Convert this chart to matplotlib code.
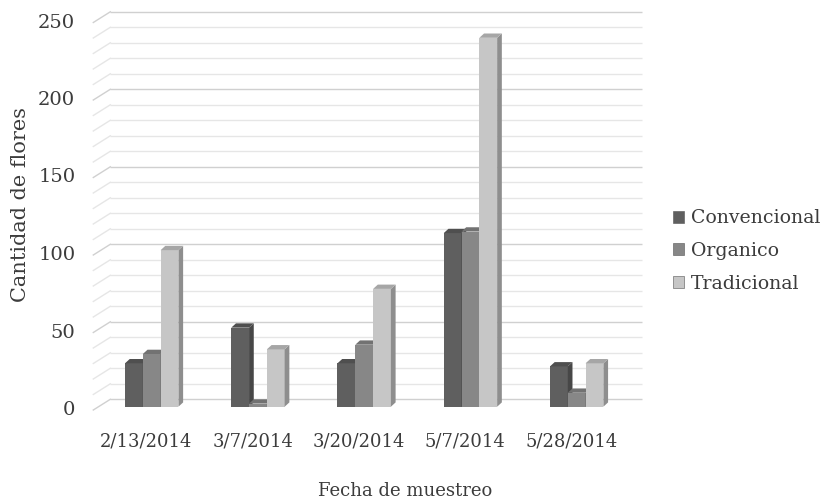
import numpy as np
import matplotlib
matplotlib.use("Agg")
import matplotlib.pyplot as plt
from matplotlib.patches import Polygon, Patch

# Flower counts per sampling date and management system
fechas = ["2/13/2014", "3/7/2014", "3/20/2014", "5/7/2014", "5/28/2014"]
series = ["Convencional", "Organico", "Tradicional"]
convencional = [28, 51, 28, 112, 26]
organico = [34, 2, 40, 113, 9]
tradicional = [101, 37, 76, 238, 28]
y_ticks = [0, 50, 100, 150, 200, 250]

front_colors = ["#5f5f5f", "#878787", "#c6c6c6"]
side_colors = ["#474747", "#6a6a6a", "#8e8e8e"]
top_colors = ["#4f4f4f", "#727272", "#a6a6a6"]
text_color = "#3c3c3c"

plt.rcParams["font.family"] = ["DejaVu Serif"]
FS = 13.0

fig = plt.figure(figsize=(8.21, 5.04), dpi=100)
W, H = 821, 504
ax = fig.add_axes([98.6 / W, 97.3 / H, 531.2 / W, 387.5 / H])
ax.set_xlim(-0.5, len(fechas) - 0.5)
ax.set_ylim(0, 250)
ax.axis("off")

# data units per screen pixel, used for the fake 3-D offsets
inv = ax.transData.inverted()
p0, p1 = inv.transform([(0, 0), (1, 1)])
ux, uy = p1 - p0

# floor depth: front edge and back wall relative to the bar plane (pixels)
front = (-5.3 * ux, -3.3 * uy)
back = (11.7 * ux, 7.4 * uy)
bar_depth = (4.7 * ux, 4.3 * uy)

x0, x1 = -0.5, len(fechas) - 0.5
for v in range(0, 251, 10):
    col = "#d0d0d0" if v % 50 == 0 else "#e6e6e6"
    ax.plot([x0 + back[0], x1 + back[0]], [v + back[1]] * 2,
            color=col, lw=1.0, zorder=1, clip_on=False, solid_capstyle="butt")
    ax.plot([x0 + front[0], x0 + back[0]], [v + front[1], v + back[1]],
            color=col, lw=1.0, zorder=1, clip_on=False)

x = np.arange(len(fechas))
bw = 17.8 * ux
values = [convencional, organico, tradicional]
for j, vals in enumerate(values):
    xs = x + (j - 1) * bw
    ax.bar(xs, vals, width=bw, color=front_colors[j], linewidth=0,
           zorder=2, clip_on=False)
    for xc, v in zip(xs, vals):
        r = xc + bw / 2
        l = xc - bw / 2
        dx, dy = bar_depth
        ax.add_patch(Polygon([(r, 0), (r, v), (r + dx, v + dy), (r + dx, dy)],
                             closed=True, facecolor=side_colors[j],
                             edgecolor="none", zorder=2, clip_on=False))
        ax.add_patch(Polygon([(l, v), (r, v), (r + dx, v + dy), (l + dx, v + dy)],
                             closed=True, facecolor=top_colors[j],
                             edgecolor="none", zorder=2, clip_on=False))

# value labels on the front edge of the floor
for v in y_ticks:
    ax.text(x0 + front[0] - 18 * ux, v + front[1], str(v), ha="right",
            va="center", fontsize=14, color=text_color, clip_on=False)

for i, f in enumerate(fechas):
    ax.text(i + front[0], front[1] - 31 * uy, f, ha="center", va="center",
            fontsize=FS, color=text_color, clip_on=False)

fig.text(405 / W, 1 - 491 / H, "Fecha de muestreo", ha="center", va="center",
         fontsize=FS, color=text_color)
fig.text(21 / W, 1 - 205 / H, "Cantidad de flores", ha="center", va="center",
         rotation=90, fontsize=15, color=text_color)

handles = [Patch(facecolor=c, edgecolor="#555555", linewidth=0.4)
           for c in front_colors]
fig.legend(handles, series, loc="center left", bbox_to_anchor=(673 / W, 1 - 251 / H),
           frameon=False, fontsize=13.6, handlelength=0.6, handleheight=0.6,
           handletextpad=0.35, labelspacing=0.78, borderpad=0, borderaxespad=0,
           labelcolor=text_color)

fig.savefig("out.png", dpi=100)
